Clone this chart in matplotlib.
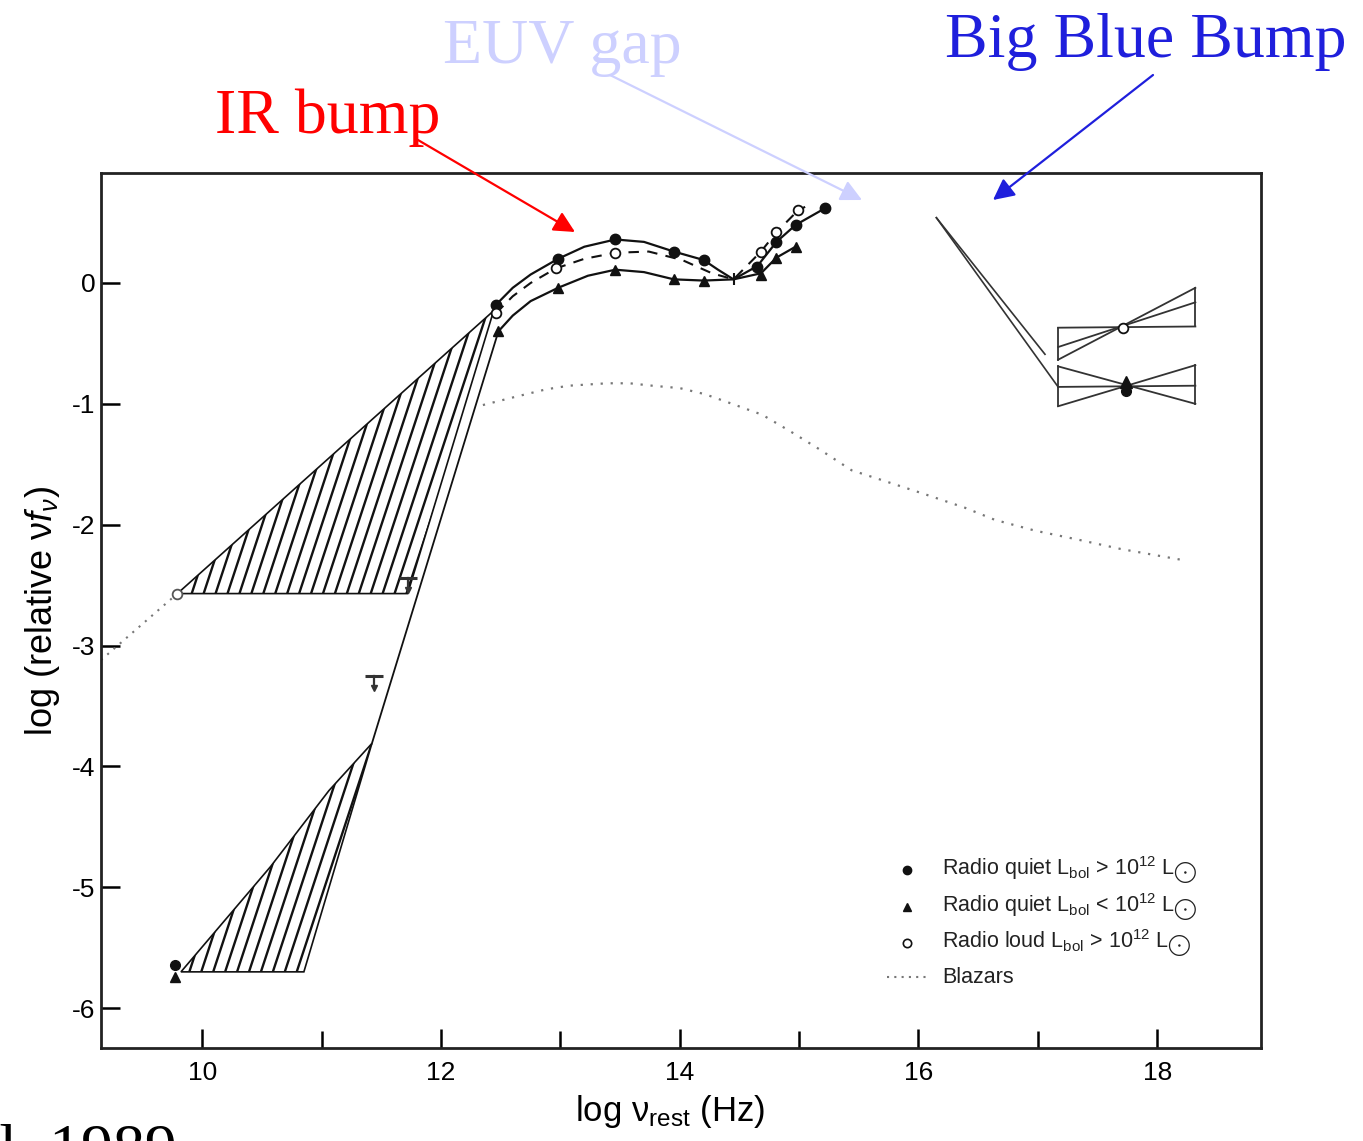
import numpy as np
import matplotlib
matplotlib.use("Agg")
import matplotlib.pyplot as plt
from matplotlib.collections import LineCollection
from matplotlib.patches import Polygon

plt.rcParams["font.family"] = ["Liberation Sans", "DejaVu Sans"]
plt.rcParams["mathtext.fontset"] = "custom"
plt.rcParams["mathtext.rm"] = "Liberation Sans"
plt.rcParams["mathtext.it"] = "Liberation Sans:italic"
plt.rcParams["axes.unicode_minus"] = False

# --- data (log nu, log relative nu f_nu) ---
# radio quiet, Lbol > 1e12 (filled circles)
rqh_x = [12.46, 12.98, 13.46, 13.95, 14.20, 14.65, 14.81, 14.97, 15.22]
rqh_y = [-0.18, 0.20, 0.36, 0.26, 0.19, 0.13, 0.34, 0.48, 0.62]
rqh_curve_x = [12.46, 12.60, 12.75, 12.98, 13.20, 13.46, 13.70, 13.95, 14.20, 14.32, 14.45, 14.65, 14.81, 14.97, 15.22]
rqh_curve_y = [-0.18, -0.04, 0.07, 0.20, 0.30, 0.36, 0.34, 0.26, 0.19, 0.11, 0.03, 0.14, 0.34, 0.48, 0.62]
# radio quiet, Lbol < 1e12 (filled triangles)
rql_x = [12.48, 12.98, 13.46, 13.95, 14.20, 14.68, 14.81, 14.97]
rql_y = [-0.40, -0.04, 0.11, 0.03, 0.02, 0.07, 0.21, 0.30]
rql_curve_x = [12.48, 12.60, 12.75, 12.98, 13.23, 13.46, 13.70, 13.95, 14.20, 14.45, 14.68, 14.81, 14.97]
rql_curve_y = [-0.40, -0.27, -0.15, -0.04, 0.06, 0.11, 0.09, 0.03, 0.02, 0.03, 0.08, 0.21, 0.30]
# radio loud, Lbol > 1e12 (open circles)
rl_x = [12.46, 12.96, 13.46, 14.68, 14.81, 14.99]
rl_y = [-0.25, 0.12, 0.25, 0.26, 0.42, 0.60]
rl_curve_x = [12.46, 12.60, 12.75, 12.96, 13.20, 13.46, 13.74, 14.02, 14.27, 14.45, 14.68, 14.81, 14.99, 15.05]
rl_curve_y = [-0.25, -0.11, 0.00, 0.12, 0.20, 0.25, 0.26, 0.19, 0.08, 0.03, 0.26, 0.42, 0.60, 0.63]
# blazars (dotted)
blazar_x = [12.35, 12.63, 12.88, 13.07, 13.39, 13.58, 13.77, 14.00, 14.21, 14.41, 14.69, 14.93,
            15.16, 15.44, 15.69, 16.03, 16.39, 16.64, 16.98, 17.32, 17.69, 18.20]
blazar_y = [-1.01, -0.94, -0.88, -0.85, -0.83, -0.83, -0.85, -0.87, -0.92, -0.99, -1.09, -1.23,
            -1.37, -1.55, -1.63, -1.74, -1.86, -1.96, -2.05, -2.12, -2.20, -2.29]
# radio-loud low-frequency extension (dotted)
rl_radio_x = [9.15, 9.79]
rl_radio_y = [-3.12, -2.57]
# hatched radio ranges
hatch_hi_x = [9.79, 11.72, 12.44]
hatch_hi_y = [-2.57, -2.57, -0.23]
hatch_lo_x = [9.82, 10.85, 11.42, 11.06, 10.57]
hatch_lo_y = [-5.70, -5.70, -3.81, -4.20, -4.83]
steep_x = [11.42, 12.48]
steep_y = [-3.81, -0.40]
# radio-quiet radio points and upper limits
rq_radio_x = [9.77]
rq_radio_circ_y = [-5.64]
rq_radio_tri_y = [-5.74]
ul_x = [11.72, 11.44]
ul_y = [-2.44, -3.25]
# soft X-ray slopes
xuv_x0, xuv_y0 = 16.15, 0.54
xuv_end_x = [17.17, 17.06]
xuv_end_y = [-0.86, -0.59]
# X-ray bowties: edges at x = bt_x, rays from left value i to right value i
bt_x = [17.17, 18.32]
bt_hi_left = [-0.37, -0.53, -0.635]
bt_hi_right = [-0.36, -0.16, -0.04]
bt_hi_pivot = (17.71, -0.37)
bt_lo_left = [-0.86, -0.69, -1.02]
bt_lo_right = [-0.85, -1.00, -0.68]
bt_lo_pivot = (17.74, -0.85)

W, H = 1363, 1141
fig = plt.figure(figsize=(W / 100, H / 100), dpi=100)
ax = fig.add_axes([101 / W, 1 - 1048 / H, 1160 / W, 875 / H])
ax.set_xlim(9.15, 18.87)
ax.set_ylim(-6.33, 0.91)

ink = "#111111"


def hatch(xs, ys, spacing=0.1, slope=3.0):
    poly = Polygon(np.column_stack([xs, ys]), closed=True, fill=False, ec=ink, lw=1.2)
    ax.add_patch(poly)
    dy = max(ys) - min(ys)
    offs = np.arange(min(xs) - dy / slope, max(xs) + spacing, spacing)
    segs = [[(o, min(ys)), (o + dy / slope, max(ys))] for o in offs]
    lc = LineCollection(segs, colors=ink, lw=1.7)
    lc.set_clip_path(poly)
    ax.add_collection(lc)


hatch(hatch_hi_x, hatch_hi_y)
hatch(hatch_lo_x, hatch_lo_y)
ax.plot(steep_x, steep_y, color=ink, lw=1.3)
ax.plot(rl_radio_x, rl_radio_y, color="#777777", lw=1.5, ls=(0, (1, 3)))
ax.plot(blazar_x, blazar_y, color="#777777", lw=1.6, ls=(0, (1, 3.5)))

ax.plot(rqh_curve_x, rqh_curve_y, color=ink, lw=1.6)
ax.plot(rql_curve_x, rql_curve_y, color=ink, lw=1.6)
ax.plot(rl_curve_x, rl_curve_y, color=ink, lw=1.5, ls=(0, (5, 4)))
ax.plot([14.45], [0.03], marker="|", ms=8, mew=1.5, color=ink)

ax.plot(rqh_x, rqh_y, "o", color=ink, ms=7.5)
ax.plot(rql_x, rql_y, "^", color=ink, ms=7)
ax.plot(rl_x, rl_y, "o", mfc="white", mec=ink, ms=7, mew=1.3)
ax.plot([rl_radio_x[-1]], [rl_radio_y[-1]], "o", mfc="white", mec="#555555", ms=7, mew=1.3)
ax.plot(rq_radio_x, rq_radio_circ_y, "o", color=ink, ms=7)
ax.plot(rq_radio_x, rq_radio_tri_y, "^", color=ink, ms=7)

for x, y in zip(ul_x, ul_y):
    ax.plot([x], [y], marker="_", ms=13, mew=2.2, color="#333333")
    ax.plot([x, x], [y, y - 0.1], color="#333333", lw=1.6)
    ax.plot([x], [y - 0.1], marker="v", ms=4, color="#333333")

for xe, ye in zip(xuv_end_x, xuv_end_y):
    ax.plot([xuv_x0, xe], [xuv_y0, ye], color="#333333", lw=1.2)

for left, right, piv, mk in [(bt_hi_left, bt_hi_right, bt_hi_pivot, "open"),
                             (bt_lo_left, bt_lo_right, bt_lo_pivot, "filled")]:
    for l, r in zip(left, right):
        ax.plot(bt_x, [l, r], color="#333333", lw=1.3)
    ax.plot([bt_x[0]] * 2, [min(left), max(left)], color="#333333", lw=1.3)
    ax.plot([bt_x[1]] * 2, [min(right), max(right)], color="#333333", lw=1.3)
    if mk == "open":
        ax.plot([piv[0]], [piv[1]], "o", mfc="white", mec=ink, ms=7, mew=1.3)
    else:
        ax.plot([piv[0]], [piv[1] - 0.04], "o", color=ink, ms=7)
        ax.plot([piv[0]], [piv[1] + 0.03], "^", color=ink, ms=8)

# axes styling
for s in ax.spines.values():
    s.set_linewidth(2)
    s.set_color("#222222")
ax.set_xticks([10, 12, 14, 16, 18])
ax.set_xticks([11, 13, 15, 17], minor=True)
ax.set_yticks([0, -1, -2, -3, -4, -5, -6])
ax.tick_params(direction="in", length=14, width=1.8, labelsize=19, top=False, right=False)
ax.tick_params(axis="x", which="minor", direction="in", length=12, width=1.8)
ax.tick_params(axis="x", pad=9)
ax.tick_params(axis="y", pad=4)
ax.set_ylabel(r"log (relative ν$f_{\nu}$)", fontsize=26, labelpad=7)
fig.text(670 / W, 1 - 1112 / H, r"log ν$_{\rm rest}$ (Hz)", fontsize=25, ha="center", va="center")

# legend drawn in axes coordinates
leg_labels = [r"Radio quiet L$_{\rm bol}$ > 10$^{12}$ L$_{\bigodot}$",
              r"Radio quiet L$_{\rm bol}$ < 10$^{12}$ L$_{\bigodot}$",
              r"Radio loud L$_{\rm bol}$ > 10$^{12}$ L$_{\bigodot}$",
              "Blazars"]
leg_y = [0.203, 0.161, 0.120, 0.081]
tr = ax.transAxes
ax.plot([0.695], [leg_y[0]], "o", color=ink, ms=6, transform=tr)
ax.plot([0.695], [leg_y[1]], "^", color=ink, ms=6, transform=tr)
ax.plot([0.695], [leg_y[2]], "o", mfc="white", mec=ink, ms=6, mew=1.2, transform=tr)
ax.plot([0.678, 0.712], [leg_y[3]] * 2, color="#777777", lw=1.5, ls=(0, (1, 2.5)), transform=tr)
for lab, y in zip(leg_labels, leg_y):
    ax.text(0.725, y, lab, fontsize=15.5, transform=tr, va="center", ha="left", color="#222222")

# annotations above the plot (figure pixels)
serif = ["Liberation Serif", "DejaVu Serif"]
fig.text(215 / W, 1 - 133 / H, "IR bump", color="#ff0000", fontsize=46, family=serif, va="baseline")
fig.text(443 / W, 1 - 63 / H, "EUV gap", color="#cdd0ff", fontsize=46, family=serif, va="baseline")
fig.text(945 / W, 1 - 57 / H, "Big Blue Bump", color="#1f1fdc", fontsize=46, family=serif, va="baseline")
# citation partly cut off at the bottom edge, as in the reference
fig.text(-29 / W, 1 - 1168 / H, "al. 1989", color="black", fontsize=46, family=serif, va="baseline")

for (x0, y0), (x1, y1), c in [((418, 140), (575, 232), "#ff0000"),
                              ((610, 75), (862, 200), "#cdd0ff"),
                              ((1153, 75), (993, 200), "#1f1fdc")]:
    ax.annotate("", xy=(x1, H - y1), xytext=(x0, H - y0), xycoords="figure pixels",
                textcoords="figure pixels",
                arrowprops=dict(arrowstyle="-|>", mutation_scale=32, lw=1.6, color=c,
                                shrinkA=0, shrinkB=0))

fig.savefig("out.png", dpi=100)
